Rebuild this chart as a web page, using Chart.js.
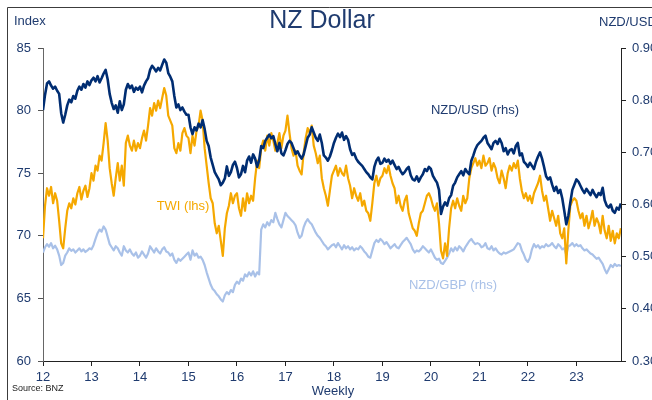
<!DOCTYPE html>
<html>
<head>
<meta charset="utf-8">
<script src="https://cdn.jsdelivr.net/npm/chart.js@4"></script>
<style>
    html, body { margin: 0; padding: 0; background: #fff; }
    #wrap { width: 652px; height: 400px; }
</style>
</head>
<body>
<div id="wrap"><canvas id="nzd" width="652" height="400"></canvas></div>
<script>
// semi-monthly readings, 2012 -> late 2023 (24 per year)
const startYear = 12;
const perYear = 24;

const xTicks = [12, 13, 14, 15, 16, 17, 18, 19, 20, 21, 22, 23];
const leftTicks = [60, 65, 70, 75, 80, 85];
const rightTicks = [0.30, 0.40, 0.50, 0.60, 0.70, 0.80, 0.90];

// NZD/USD (rhs)
const nzdUsd = [
    0.781, 0.810, 0.832, 0.836, 0.828, 0.822, 0.826, 0.818, 0.812, 0.775, 0.757, 0.772, 0.790, 0.801, 0.796, 0.808, 0.803, 0.818, 0.826, 0.820, 0.831, 0.824, 0.836, 0.829,
    0.838, 0.843, 0.836, 0.846, 0.834, 0.842, 0.851, 0.858, 0.840, 0.812, 0.795, 0.783, 0.790, 0.776, 0.798, 0.781, 0.792, 0.820, 0.831, 0.823, 0.828, 0.816, 0.824, 0.820,
    0.826, 0.815, 0.828, 0.836, 0.842, 0.858, 0.866, 0.861, 0.855, 0.862, 0.857, 0.868, 0.878, 0.872, 0.852, 0.845, 0.836, 0.808, 0.786, 0.792, 0.781, 0.786, 0.778, 0.772,
    0.772, 0.748, 0.735, 0.748, 0.742, 0.755, 0.748, 0.762, 0.745, 0.722, 0.712, 0.690, 0.676, 0.662, 0.655, 0.648, 0.637, 0.642, 0.650, 0.673, 0.655, 0.662, 0.676, 0.682,
    0.670, 0.652, 0.658, 0.674, 0.662, 0.684, 0.692, 0.680, 0.696, 0.688, 0.672, 0.685, 0.712, 0.708, 0.722, 0.728, 0.734, 0.727, 0.731, 0.716, 0.702, 0.718, 0.698, 0.694,
    0.704, 0.716, 0.722, 0.718, 0.708, 0.697, 0.702, 0.694, 0.688, 0.696, 0.712, 0.728, 0.734, 0.748, 0.738, 0.728, 0.722, 0.734, 0.718, 0.694, 0.690, 0.684, 0.692, 0.704,
    0.718, 0.728, 0.736, 0.729, 0.738, 0.724, 0.731, 0.724, 0.706, 0.695, 0.698, 0.688, 0.682, 0.678, 0.674, 0.668, 0.662, 0.658, 0.652, 0.648, 0.672, 0.684, 0.690, 0.678,
    0.680, 0.688, 0.682, 0.686, 0.678, 0.684, 0.676, 0.668, 0.672, 0.664, 0.658, 0.662, 0.668, 0.672, 0.656, 0.648, 0.646, 0.654, 0.644, 0.652, 0.658, 0.668, 0.664, 0.672,
    0.668, 0.655, 0.648, 0.642, 0.628, 0.582, 0.596, 0.604, 0.598, 0.612, 0.618, 0.636, 0.642, 0.652, 0.658, 0.664, 0.656, 0.668, 0.662, 0.658, 0.684, 0.694, 0.706, 0.714,
    0.718, 0.722, 0.728, 0.732, 0.718, 0.712, 0.706, 0.718, 0.722, 0.716, 0.726, 0.718, 0.702, 0.708, 0.696, 0.704, 0.706, 0.698, 0.712, 0.718, 0.694, 0.698, 0.682, 0.678,
    0.672, 0.680, 0.674, 0.668, 0.682, 0.692, 0.700, 0.688, 0.672, 0.654, 0.648, 0.652, 0.638, 0.626, 0.634, 0.622, 0.628, 0.612, 0.588, 0.562, 0.578, 0.604, 0.628, 0.638,
    0.648, 0.644, 0.636, 0.628, 0.622, 0.630, 0.624, 0.618, 0.628, 0.620, 0.614, 0.622, 0.618, 0.632, 0.608, 0.598, 0.594, 0.600, 0.588, 0.584, 0.594, 0.590, 0.602
];

// TWI (lhs)
const twi = [
    69.8, 72.4, 73.8, 73.2, 73.9, 72.6, 73.4, 72.8, 71.2, 69.4, 69.0, 70.6, 72.0, 72.6, 72.2, 73.0, 72.5, 73.4, 73.9, 72.9, 73.6, 74.0, 73.1, 73.8,
    75.0, 74.4, 75.6, 75.2, 76.4, 76.0, 77.4, 79.0, 77.6, 75.4, 74.2, 73.2, 74.6, 75.8, 74.4, 75.6, 74.0, 77.4, 78.0, 77.2, 76.8, 77.6, 76.8, 77.4,
    77.0, 77.8, 78.4, 77.6, 78.8, 80.2, 79.6, 80.6, 80.0, 80.8, 80.2, 81.0, 81.8, 81.2, 79.6, 79.2, 78.8, 77.0, 76.6, 77.4, 76.8, 78.2, 78.6, 78.0,
    77.8, 76.6, 78.0, 77.2, 78.4, 78.8, 80.0, 79.2, 77.0, 75.6, 74.2, 73.0, 72.6, 71.0, 70.2, 70.8, 69.6, 68.4, 70.6, 71.8, 72.4, 73.4, 72.6, 73.2,
    73.4, 72.2, 71.6, 73.0, 72.0, 73.4, 72.6, 73.2, 72.8, 74.6, 76.0, 75.4, 77.0, 77.6, 76.8, 78.0, 77.2, 78.2, 77.6, 76.8, 77.4, 78.2, 77.0, 78.0,
    78.4, 79.6, 78.2, 77.0, 76.4, 76.8, 75.6, 75.2, 74.9, 76.6, 77.8, 78.6, 78.2, 78.8, 77.2, 76.6, 75.8, 76.4, 74.6, 73.8, 73.2, 72.4, 73.6, 74.8,
    75.2, 75.6, 74.8, 75.4, 75.0, 74.8, 75.6, 74.6, 74.0, 73.0, 73.8, 73.2, 72.8, 73.4, 72.4, 72.8, 72.0, 71.8, 71.2, 72.6, 74.2, 74.8, 74.0, 74.6,
    74.8, 75.4, 75.0, 75.6, 74.8, 74.2, 73.8, 72.6, 73.2, 72.4, 72.0, 72.8, 73.2, 71.8, 71.2, 70.6, 70.4, 70.0, 71.0, 71.8, 72.0, 72.6, 73.2, 73.4,
    73.0, 72.4, 72.0, 72.6, 71.0, 68.8, 68.2, 69.4, 68.4, 70.6, 72.2, 72.8, 72.2, 73.0, 72.4, 72.0, 73.2, 72.6, 73.0, 74.6, 75.4, 75.8, 76.2, 75.6,
    76.0, 75.4, 76.4, 75.6, 75.8, 76.2, 75.2, 75.8, 75.4, 74.6, 74.2, 75.2, 74.6, 73.8, 75.0, 75.6, 75.2, 75.8, 75.4, 76.0, 74.6, 73.6, 73.0, 73.4,
    72.8, 73.2, 72.6, 73.4, 73.8, 74.2, 74.8, 73.6, 72.8, 73.2, 72.2, 71.2, 72.0, 71.4, 70.8, 71.6, 70.2, 69.8, 70.6, 67.8, 70.4, 72.4, 72.8, 73.0,
    72.8, 72.0, 71.4, 71.8, 70.8, 71.6, 70.6, 71.2, 72.0, 70.8, 71.4, 71.0, 70.2, 71.6, 70.4, 69.8, 70.8, 69.6, 70.4, 69.4, 70.2, 69.8, 70.6
];

// NZD/GBP (rhs)
const nzdGbp = [
    0.508, 0.518, 0.524, 0.519, 0.526, 0.516, 0.521, 0.514, 0.502, 0.484, 0.488, 0.502, 0.508, 0.516, 0.511, 0.514, 0.508, 0.512, 0.516, 0.510, 0.514, 0.509, 0.512, 0.516,
    0.514, 0.522, 0.534, 0.545, 0.552, 0.548, 0.558, 0.552, 0.538, 0.524, 0.518, 0.512, 0.520, 0.516, 0.508, 0.502, 0.520, 0.512, 0.508, 0.514, 0.506, 0.502, 0.508, 0.498,
    0.502, 0.510, 0.504, 0.498, 0.506, 0.520, 0.514, 0.508, 0.516, 0.510, 0.506, 0.514, 0.518, 0.510, 0.508, 0.502, 0.506, 0.494, 0.488, 0.496, 0.492, 0.496, 0.500, 0.504,
    0.508, 0.494, 0.512, 0.502, 0.506, 0.498, 0.500, 0.494, 0.484, 0.470, 0.458, 0.446, 0.438, 0.434, 0.428, 0.424, 0.418, 0.414, 0.426, 0.432, 0.428, 0.436, 0.432, 0.446,
    0.452, 0.448, 0.458, 0.454, 0.466, 0.462, 0.470, 0.464, 0.472, 0.462, 0.470, 0.466, 0.552, 0.562, 0.556, 0.566, 0.560, 0.570, 0.566, 0.584, 0.572, 0.562, 0.556, 0.570,
    0.584, 0.578, 0.574, 0.570, 0.566, 0.560, 0.546, 0.536, 0.540, 0.556, 0.566, 0.572, 0.566, 0.562, 0.554, 0.546, 0.540, 0.536, 0.530, 0.524, 0.520, 0.514, 0.518, 0.522,
    0.524, 0.518, 0.526, 0.520, 0.514, 0.522, 0.516, 0.520, 0.514, 0.518, 0.512, 0.516, 0.514, 0.520, 0.516, 0.510, 0.506, 0.500, 0.498, 0.512, 0.526, 0.532, 0.528, 0.534,
    0.530, 0.524, 0.528, 0.522, 0.516, 0.520, 0.524, 0.518, 0.516, 0.522, 0.528, 0.532, 0.536, 0.530, 0.524, 0.514, 0.508, 0.512, 0.510, 0.514, 0.520, 0.516, 0.512, 0.508,
    0.514, 0.506, 0.498, 0.494, 0.496, 0.488, 0.486, 0.492, 0.498, 0.506, 0.516, 0.510, 0.518, 0.512, 0.520, 0.516, 0.510, 0.518, 0.524, 0.530, 0.534, 0.528, 0.524, 0.526,
    0.524, 0.518, 0.520, 0.526, 0.516, 0.514, 0.520, 0.512, 0.516, 0.510, 0.506, 0.504, 0.508, 0.506, 0.508, 0.510, 0.512, 0.514, 0.520, 0.526, 0.524, 0.512, 0.504, 0.494,
    0.490, 0.498, 0.514, 0.524, 0.518, 0.522, 0.516, 0.520, 0.518, 0.524, 0.520, 0.522, 0.526, 0.520, 0.516, 0.524, 0.520, 0.514, 0.516, 0.504, 0.520, 0.522, 0.526, 0.520,
    0.524, 0.520, 0.522, 0.516, 0.512, 0.514, 0.510, 0.506, 0.504, 0.500, 0.496, 0.498, 0.492, 0.486, 0.476, 0.468, 0.476, 0.484, 0.480, 0.486, 0.482, 0.484, 0.482
];

const NAVY = '#002d72';
const ORANGE = '#f5a800';
const LIGHT = '#a9c1e8';
const TEXT = '#1f3b6f';
const FONT = '"Liberation Sans", Arial, sans-serif';

const toPoints = arr => arr.map((v, i) => ({ x: startYear + i / perYear, y: v }));

// frame, title, axis captions and series labels
const labelsPlugin = {
    id: 'labels',
    afterDraw(chart) {
        const ctx = chart.ctx;
        ctx.save();
        ctx.strokeStyle = '#3c3c3c';
        ctx.lineWidth = 1;
        ctx.beginPath();
        ctx.moveTo(7.5, 400);
        ctx.lineTo(7.5, 7.5);
        ctx.lineTo(652, 7.5);
        ctx.stroke();

        ctx.textBaseline = 'middle';
        ctx.fillStyle = TEXT;
        ctx.textAlign = 'center';
        ctx.font = '25px ' + FONT;
        ctx.fillText('NZ Dollar', 322, 21);

        ctx.font = '13px ' + FONT;
        ctx.textAlign = 'left';
        ctx.fillText('Index', 14, 21);
        ctx.fillText('NZD/USD', 599, 22);
        ctx.textAlign = 'center';
        ctx.fillText('Weekly', 333, 391);

        ctx.fillText('NZD/USD (rhs)', 475, 110);
        ctx.fillStyle = ORANGE;
        ctx.fillText('TWI (lhs)', 183, 206);
        ctx.fillStyle = LIGHT;
        ctx.fillText('NZD/GBP (rhs)', 453, 285);

        ctx.fillStyle = '#222';
        ctx.textAlign = 'left';
        ctx.font = '9px ' + FONT;
        ctx.fillText('Source: BNZ', 12, 389);
        ctx.restore();
    }
};

const ctx = document.getElementById('nzd').getContext('2d');
new Chart(ctx, {
    type: 'line',
    data: {
        datasets: [
            { label: 'NZD/USD (rhs)', data: toPoints(nzdUsd), yAxisID: 'yR', borderColor: NAVY, borderWidth: 2.6, order: 1 },
            { label: 'TWI (lhs)', data: toPoints(twi), yAxisID: 'yL', borderColor: ORANGE, borderWidth: 2.2, order: 2 },
            { label: 'NZD/GBP (rhs)', data: toPoints(nzdGbp), yAxisID: 'yR', borderColor: LIGHT, borderWidth: 2.2, order: 3 }
        ]
    },
    options: {
        responsive: false,
        animation: false,
        devicePixelRatio: 1,
        elements: { point: { radius: 0 }, line: { tension: 0, borderJoinStyle: 'round' } },
        layout: { padding: { top: 48, left: 0, right: 0, bottom: 0 } },
        plugins: { legend: { display: false }, tooltip: { enabled: false } },
        scales: {
            x: {
                type: 'linear',
                min: xTicks[0],
                max: 23.92,
                afterFit: s => { s.height = 39; },
                afterBuildTicks: s => { s.ticks = xTicks.map(v => ({ value: v })); },
                grid: { drawOnChartArea: false, tickLength: 5, tickColor: '#222' },
                border: { color: '#222' },
                ticks: { color: TEXT, font: { family: FONT, size: 13 }, padding: 4, autoSkip: false, maxRotation: 0,
                    callback: v => String(v) }
            },
            yL: {
                position: 'left',
                min: 60,
                max: 85,
                afterFit: s => { s.width = 43; },
                afterBuildTicks: s => { s.ticks = leftTicks.map(v => ({ value: v })); },
                grid: { drawOnChartArea: false, tickLength: 5, tickColor: '#555' },
                border: { color: '#666' },
                ticks: { color: TEXT, font: { family: FONT, size: 13 }, padding: 7 }
            },
            yR: {
                position: 'right',
                min: 0.3,
                max: 0.9,
                afterFit: s => { s.width = 31; },
                afterBuildTicks: s => { s.ticks = rightTicks.map(v => ({ value: v })); },
                grid: { drawOnChartArea: false, tickLength: 5, tickColor: '#222' },
                border: { color: '#222' },
                ticks: { color: TEXT, font: { family: FONT, size: 13 }, padding: 6,
                    callback: v => v.toFixed(2) }
            }
        }
    },
    plugins: [labelsPlugin]
});
</script>
</body>
</html>
